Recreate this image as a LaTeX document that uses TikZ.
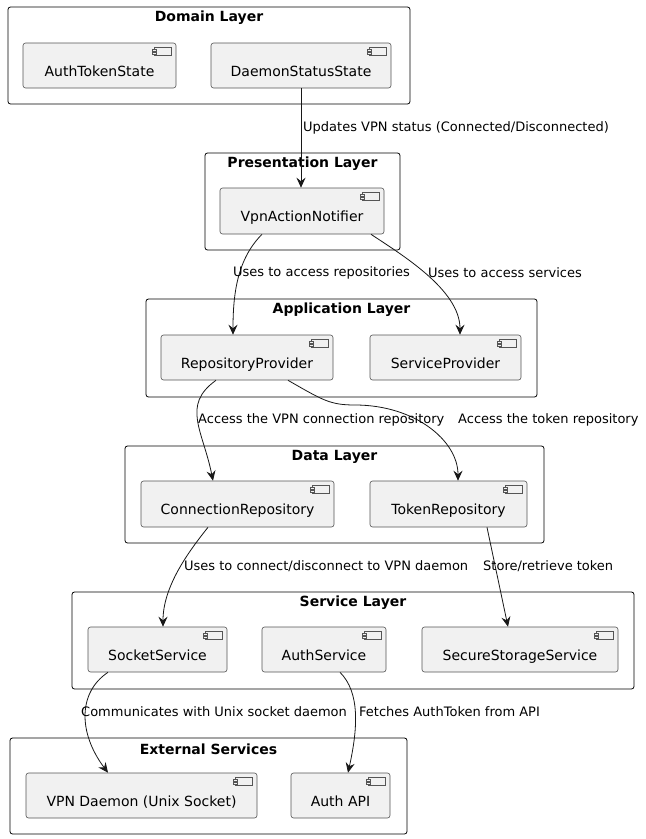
\documentclass[tikz,border=0pt]{standalone}
\usepackage{fontspec}
\setmainfont{DejaVu Sans}
\usetikzlibrary{arrows.meta,calc}
\definecolor{compfill}{HTML}{F1F1F1}
\definecolor{compline}{HTML}{555555}
\definecolor{arrowline}{HTML}{181818}
\newcommand\mycomp[6]{%
  \node[comp, minimum width={#4pt-#2pt}, minimum height={#5pt-#3pt}] (#1) at ({(#2+#4)/2},{(#3+#5)/2}) {\raisebox{-10.5pt}[0pt][0pt]{#6}};
  \draw[icon] ($(#1.north east)+(-22,5)$) rectangle ++(17,8);
  \draw[icon] ($(#1.north east)+(-24,7)$) rectangle ++(4,1.6);
  \draw[icon] ($(#1.north east)+(-24,10)$) rectangle ++(4,1.6);
}
\newcommand\mypkg[6]{%
  \draw[pkg] (#2,#3) rectangle (#4,#5);
  \node[ptitle] (#1) at ({(#2+#4)/2},#3+11) {#6};
}
\begin{document}
\begin{tikzpicture}[x=1pt,y=-1pt,
  pkg/.style={draw=black, line width=0.8pt, rounded corners=2.5pt, fill=white},
  comp/.style={draw=compline, fill=compfill, line width=0.6pt, rounded corners=2.5pt, inner sep=0pt, font=\fontsize{14}{16}\selectfont},
  icon/.style={draw=compline, fill=compfill, line width=0.5pt},
  ptitle/.style={font=\fontsize{14}{16}\selectfont\bfseries, inner sep=0pt},
  lbl/.style={font=\fontsize{13}{15}\selectfont, anchor=west, inner sep=0pt},
  conn/.style={draw=arrowline, line width=0.8pt, -{Stealth[length=10pt,width=9pt,inset=3.5pt]}}
]
\fill[white] (0,0) rectangle (646,839);
\useasboundingbox (0,0) rectangle (646,839);

\mypkg{tdom}{8}{7}{410}{104}{Domain Layer}
\mypkg{tpres}{205}{153}{400}{250}{Presentation Layer}
\mypkg{tapp}{146}{299}{537}{397}{Application Layer}
\mypkg{tdata}{125}{446}{544}{543}{Data Layer}
\mypkg{tserv}{72}{592}{634}{689}{Service Layer}
\mypkg{text}{10}{738}{407}{834}{External Services}

\mycomp{ats}{23}{43}{176}{88}{AuthTokenState}
\mycomp{dss}{211}{43}{391}{88}{DaemonStatusState}
\mycomp{van}{220}{188}{384}{234}{VpnActionNotifier}
\mycomp{rp}{161}{335}{333}{380}{RepositoryProvider}
\mycomp{sp}{370}{335}{521}{380}{ServiceProvider}
\mycomp{cr}{141}{481}{334}{527}{ConnectionRepository}
\mycomp{tr}{370}{481}{527}{527}{TokenRepository}
\mycomp{ss}{88}{627}{227}{672}{SocketService}
\mycomp{as}{262}{627}{386}{672}{AuthService}
\mycomp{sss}{422}{627}{618}{672}{SecureStorageService}
\mycomp{vd}{26}{773}{257}{818}{VPN Daemon (Unix Socket)}
\mycomp{api}{291}{773}{390}{818}{Auth API}

% connectors
\draw[conn] (dss.south) -- (dss.south |- van.north);
\draw[conn] ([xshift=-40pt]van.south) .. controls +(-25,25) and +(0,-40) .. ([xshift=-14pt]rp.north);
\draw[conn] ([xshift=69pt]van.south) .. controls +(30,20) and +(0,-45) .. ([xshift=14.5pt]sp.north);
\draw[conn] ([xshift=-31pt]rp.south) .. controls +(-35,25) and +(-10,-50) .. ([xshift=-24.5pt]cr.north);
\draw[conn] ([xshift=41pt]rp.south) .. controls +(35,20) and +(-25,0) .. (355,405) .. controls +(60,0) and +(0,-40) .. ([xshift=9.5pt]tr.north);
\draw[conn] ([xshift=-29.5pt]cr.south) .. controls +(-20,25) and +(0,-40) .. ([xshift=5.5pt]ss.north);
\draw[conn] ([xshift=38.5pt]tr.south) -- ([xshift=-12pt]sss.north);
\draw[conn] ([xshift=-49.5pt]ss.south) .. controls +(-30,20) and +(-30,-40) .. ([xshift=-33.5pt]vd.north);
\draw[conn] ([xshift=16pt]as.south) .. controls +(20,20) and +(10,-45) .. ([xshift=7.5pt]api.north);

% labels
\node[lbl] (l1) at (303,128) {Updates VPN status (Connected/Disconnected)};
\node[lbl] (l2) at (233,273) {Uses to access repositories};
\node[lbl] (l3) at (428,273) {Uses to access services};
\node[lbl] (l4) at (198,420) {Access the VPN connection repository};
\node[lbl] (l5) at (458,420) {Access the token repository};
\node[lbl] (l6) at (184,566) {Uses to connect/disconnect to VPN daemon};
\node[lbl] (l7) at (483,566) {Store/retrieve token};
\node[lbl] (l8) at (81,712) {Communicates with Unix socket daemon};
\node[lbl] (l9) at (359,712) {Fetches AuthToken from API};
\end{tikzpicture}
\end{document}
